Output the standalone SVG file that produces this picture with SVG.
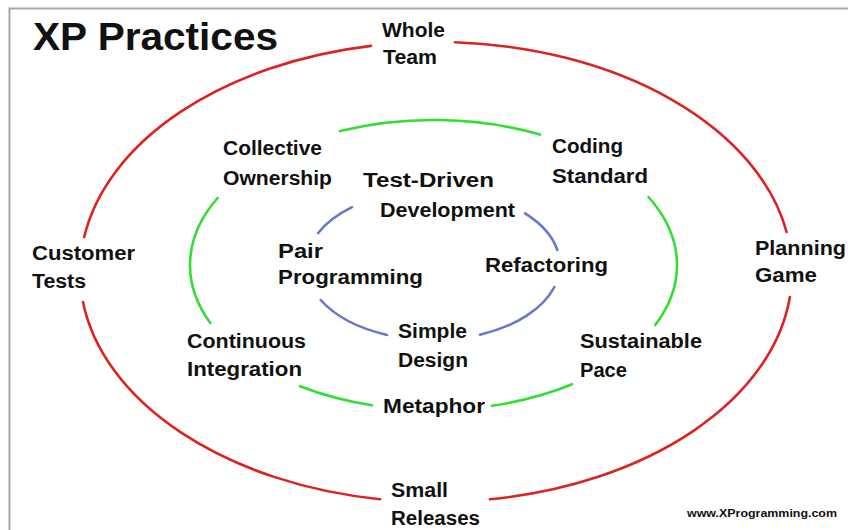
<svg xmlns="http://www.w3.org/2000/svg" width="848" height="530" viewBox="0 0 848 530">
<style>
.lbl{font-family:"Liberation Sans","DejaVu Sans",sans-serif;font-weight:bold;font-size:20px;fill:#111;}
.title{font-family:"Liberation Sans","DejaVu Sans",sans-serif;font-weight:bold;font-size:38px;fill:#111;}
.url{font-family:"Liberation Sans","DejaVu Sans",sans-serif;font-weight:bold;font-size:11px;fill:#111;}
.ring{fill:none;stroke-linecap:round;stroke-width:2.6;}
.red{stroke:#dd2222;}
.green{stroke:#33dd33;}
.blue{stroke:#6677cc;}
</style>
<rect x="0" y="0" width="848" height="530" fill="#ffffff"/>
<path d="M9.5,530 V8.5 H848" fill="none" stroke="#a8a8a8" stroke-width="2"/>
<text class="title" x="33" y="50" textLength="245" lengthAdjust="spacingAndGlyphs">XP Practices</text>
<g id="connectors">
  <g id="outer-ring">
    <path class="ring red" d="M455,42.3 A356,230 0 0 1 786.6,232"/>
    <path class="ring red" d="M789.9,297 A356,230 0 0 1 490,499.3"/>
    <path class="ring red" d="M380,499.2 A356,230 0 0 1 83,302"/>
    <path class="ring red" d="M84.2,237 A356,230 0 0 1 371,45.9"/>
  </g>
  <g id="middle-ring">
    <path class="ring green" d="M340,131.1 A243.5,145 0 0 1 540,134.6"/>
    <path class="ring green" d="M648.5,197 A243.5,145 0 0 1 655.2,325"/>
    <path class="ring green" d="M572,384.3 A243.5,145 0 0 1 492,405.8"/>
    <path class="ring green" d="M372,405.3 A243.5,145 0 0 1 300,386.3"/>
    <path class="ring green" d="M210.3,323 A243.5,145 0 0 1 217.6,198"/>
  </g>
  <g id="inner-ring">
    <path class="ring blue" d="M525,213.3 A127,75 0 0 1 557.4,250"/>
    <path class="ring blue" d="M554.4,287 A127,75 0 0 1 480,334.7"/>
    <path class="ring blue" d="M387,334.9 A127,75 0 0 1 320.7,300"/>
    <path class="ring blue" d="M318.2,233 A127,75 0 0 1 352,207.2"/>
  </g>
</g>
<g id="whole-team"><text class="lbl" x="382" y="37" textLength="63" lengthAdjust="spacingAndGlyphs">Whole</text><text class="lbl" x="383" y="64" textLength="54" lengthAdjust="spacingAndGlyphs">Team</text></g>
<g id="collective-ownership"><text class="lbl" x="223" y="155" textLength="99" lengthAdjust="spacingAndGlyphs">Collective</text><text class="lbl" x="223" y="185" textLength="109" lengthAdjust="spacingAndGlyphs">Ownership</text></g>
<g id="coding-standard"><text class="lbl" x="552" y="153" textLength="71" lengthAdjust="spacingAndGlyphs">Coding</text><text class="lbl" x="552" y="183" textLength="96" lengthAdjust="spacingAndGlyphs">Standard</text></g>
<g id="test-driven-development"><text class="lbl" x="363" y="187" textLength="131" lengthAdjust="spacingAndGlyphs">Test-Driven</text><text class="lbl" x="380" y="217" textLength="135" lengthAdjust="spacingAndGlyphs">Development</text></g>
<g id="customer-tests"><text class="lbl" x="32" y="260" textLength="103" lengthAdjust="spacingAndGlyphs">Customer</text><text class="lbl" x="32" y="288" textLength="54" lengthAdjust="spacingAndGlyphs">Tests</text></g>
<g id="planning-game"><text class="lbl" x="755" y="255" textLength="91" lengthAdjust="spacingAndGlyphs">Planning</text><text class="lbl" x="755" y="282" textLength="62" lengthAdjust="spacingAndGlyphs">Game</text></g>
<g id="pair-programming"><text class="lbl" x="278" y="258" textLength="45" lengthAdjust="spacingAndGlyphs">Pair</text><text class="lbl" x="278" y="284" textLength="145" lengthAdjust="spacingAndGlyphs">Programming</text></g>
<g id="refactoring"><text class="lbl" x="485" y="272" textLength="123" lengthAdjust="spacingAndGlyphs">Refactoring</text></g>
<g id="simple-design"><text class="lbl" x="398" y="338" textLength="69" lengthAdjust="spacingAndGlyphs">Simple</text><text class="lbl" x="398" y="367" textLength="70" lengthAdjust="spacingAndGlyphs">Design</text></g>
<g id="continuous-integration"><text class="lbl" x="187" y="348" textLength="119" lengthAdjust="spacingAndGlyphs">Continuous</text><text class="lbl" x="187" y="376" textLength="115" lengthAdjust="spacingAndGlyphs">Integration</text></g>
<g id="sustainable-pace"><text class="lbl" x="580" y="348" textLength="122" lengthAdjust="spacingAndGlyphs">Sustainable</text><text class="lbl" x="580" y="377" textLength="47" lengthAdjust="spacingAndGlyphs">Pace</text></g>
<g id="metaphor"><text class="lbl" x="383" y="413" textLength="102" lengthAdjust="spacingAndGlyphs">Metaphor</text></g>
<g id="small-releases"><text class="lbl" x="391" y="497" textLength="57" lengthAdjust="spacingAndGlyphs">Small</text><text class="lbl" x="391" y="525" textLength="89" lengthAdjust="spacingAndGlyphs">Releases</text></g>
<text class="url" x="687" y="517" textLength="150" lengthAdjust="spacingAndGlyphs">www.XProgramming.com</text>
</svg>
